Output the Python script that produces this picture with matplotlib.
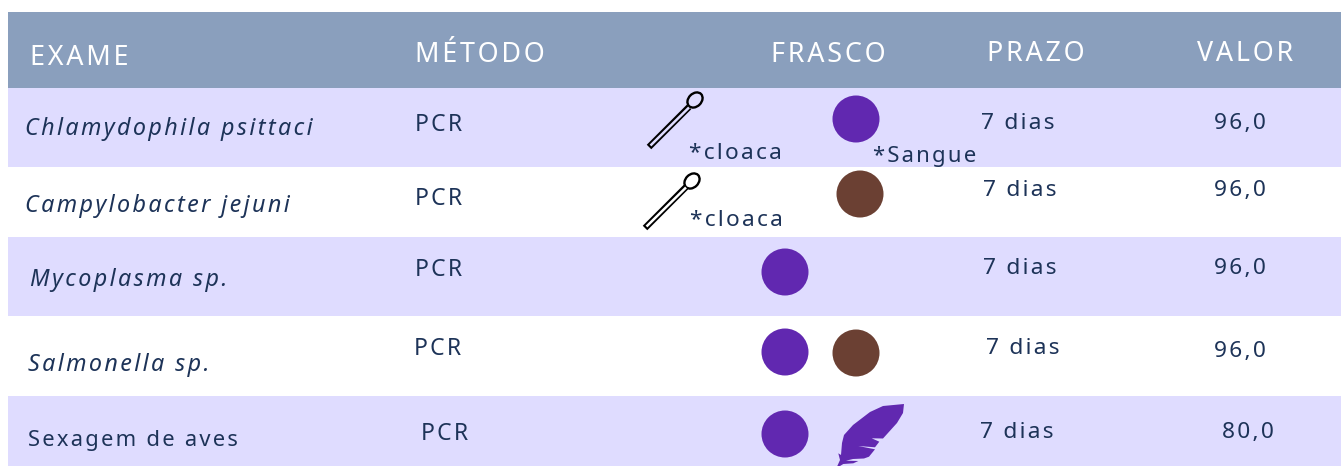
import matplotlib
matplotlib.use("Agg")
import matplotlib.pyplot as plt
from matplotlib.patches import Rectangle, Circle, Ellipse, PathPatch
from matplotlib.path import Path

plt.rcParams['font.family'] = ['Noto Sans', 'DejaVu Sans']

# table content
headers = ["EXAME", "MÉTODO", "FRASCO", "PRAZO", "VALOR"]
exames = ["Chlamydophila psittaci", "Campylobacter jejuni", "Mycoplasma sp.",
          "Salmonella sp.", "Sexagem de aves"]
metodos = ["PCR", "PCR", "PCR", "PCR", "PCR"]
prazos = ["7 dias", "7 dias", "7 dias", "7 dias", "7 dias"]
valores = ["96,0", "96,0", "96,0", "96,0", "80,0"]
italic_exame = [True, True, True, True, False]

# colours
header_color = "#8a9fbd"
row_color = "#dfdcff"
text_color = "#1d3358"
purple = "#6128b0"
brown = "#6b4033"


def spaced(s):
    # no letter spacing in matplotlib, hair spaces do the job
    return "\u200a".join(s)


fig = plt.figure(figsize=(13.41, 4.66), dpi=100)
ax = fig.add_axes([0, 0, 1, 1])
ax.set_xlim(0, 1341)
ax.set_ylim(466, 0)
ax.axis("off")

# bands
row_edges = [88, 167, 237, 316, 396, 466]
ax.add_patch(Rectangle((8, 12), 1333, 76, color=header_color, lw=0))
for i in range(5):
    if i % 2 == 0:
        ax.add_patch(Rectangle((8, row_edges[i]), 1333, row_edges[i + 1] - row_edges[i],
                               color=row_color, lw=0))

# header
header_x = [30, 415, 771, 987, 1197]
header_y = [65, 62, 62, 61, 61]
for h, x, y in zip(headers, header_x, header_y):
    ax.text(x, y, spaced(h), color="white", fontsize=19.4, va="baseline")

# rows
exame_x = [25, 25, 30, 28, 28]
exame_y = [135, 212, 286, 371, 446]
exame_size = [16.8, 16.8, 16.8, 16.8, 15.8]
metodo_x = [415, 415, 415, 414, 421]
metodo_y = [131, 205, 276, 355, 440]
prazo_x = [981, 983, 983, 986, 980]
prazo_y = [129, 196, 274, 354, 438]
valor_x = [1214, 1214, 1214, 1214, 1222]
valor_y = [129, 196, 274, 357, 438]

for i in range(5):
    ax.text(exame_x[i], exame_y[i], spaced(exames[i]), color=text_color, fontsize=exame_size[i],
            style="italic" if italic_exame[i] else "normal", va="baseline")
    ax.text(metodo_x[i], metodo_y[i], spaced(metodos[i]), color=text_color, fontsize=16.5, va="baseline")
    ax.text(prazo_x[i], prazo_y[i], spaced(prazos[i]), color=text_color, fontsize=16.3, va="baseline")
    ax.text(valor_x[i], valor_y[i], spaced(valores[i]), color=text_color, fontsize=16.3, va="baseline")

ax.text(689, 159, spaced("*cloaca"), color=text_color, fontsize=16.3, va="baseline")
ax.text(690, 226, spaced("*cloaca"), color=text_color, fontsize=16.3, va="baseline")
ax.text(873, 162, spaced("*Sangue"), color=text_color, fontsize=15.9, va="baseline")

# tubes
for x, y, c in [(856, 119, purple), (860, 194, brown), (785, 272, purple),
                (785, 352, purple), (856, 353, brown), (785, 434, purple)]:
    ax.add_patch(Circle((x, y), 23.5, color=c, lw=0))


# swabs
def swab(x0, y0, x1, y1, hx, hy, bg):
    ax.plot([x0, x1], [y0, y1], color="black", lw=4.6, solid_capstyle="butt")
    ax.plot([x0 + 1.5, x1], [y0 - 1.5, y1 + 0.5], color=bg, lw=1.8, solid_capstyle="butt")
    ax.add_patch(Ellipse((hx, hy), 17, 13, angle=-45, fc=bg, ec="black", lw=1.7))


swab(649, 147, 689, 107, 695, 100, row_color)
swab(645, 228, 686, 187, 692, 181, "white")

# feather
feather = [(904, 404), (883, 406), (870, 412), (853, 425), (844, 435), (842, 443), (841, 455),
           (838.3, 453.3), (840, 460), (837.3, 466), (840, 466), (843.3, 464), (853.3, 463.3),
           (858.3, 461), (846, 460.7), (853, 459), (864, 458.5), (869, 456.7), (875, 449.3), (858.3, 446),
           (875, 447.3), (879.3, 441.7), (871.7, 438.3), (883, 438.5), (897, 423), (903, 413),
           (904, 404)]
ax.add_patch(PathPatch(Path(feather), fc=purple, ec="none"))

plt.savefig("out.png", dpi=100)
